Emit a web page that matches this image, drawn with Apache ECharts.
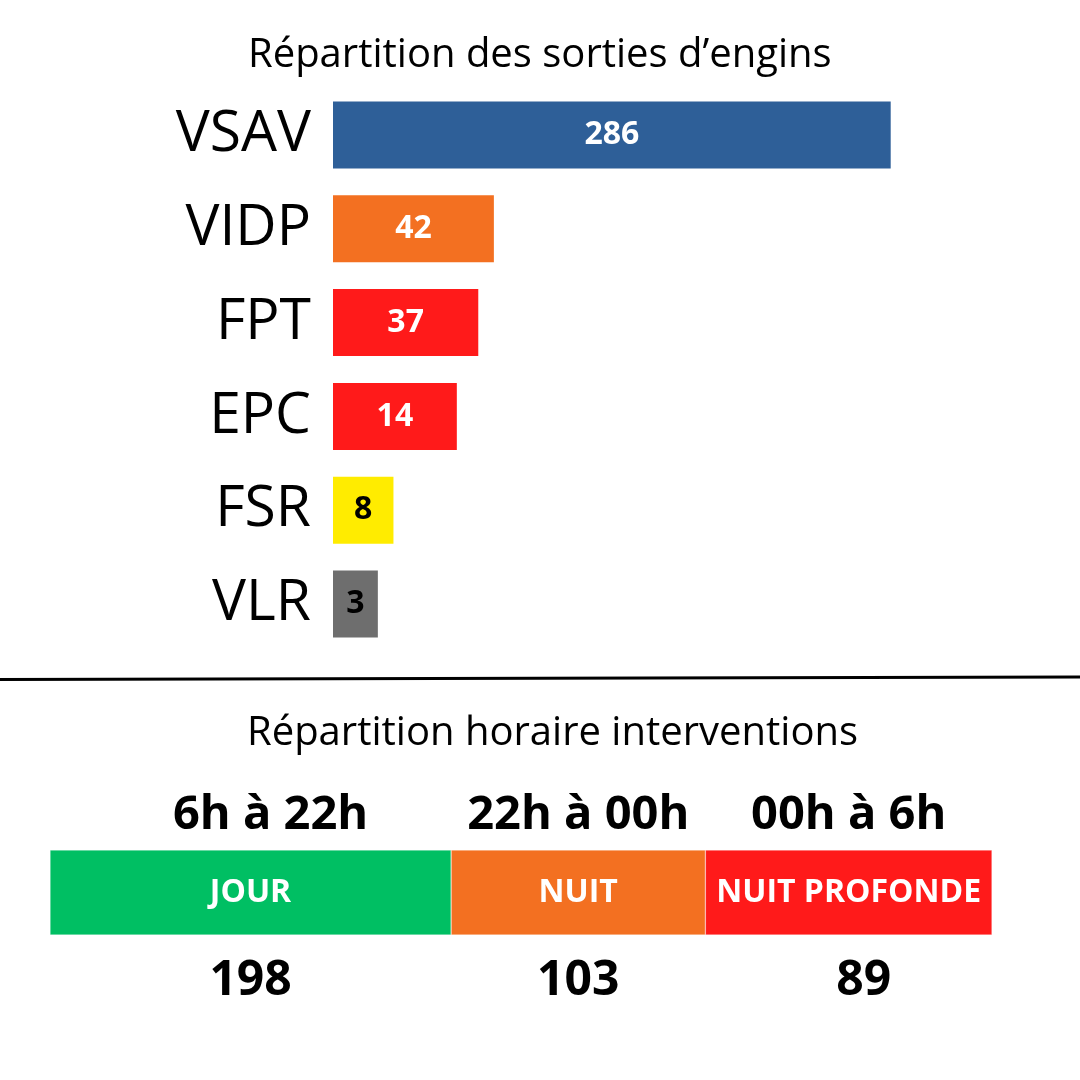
<!DOCTYPE html>
<html>
<head>
<meta charset="utf-8">
<script src="https://cdn.jsdelivr.net/npm/echarts@6/dist/echarts.min.js"></script>
<style>
html, body { margin: 0; padding: 0; background: #fff; }
#chart { width: 1080px; height: 1080px; }
</style>
</head>
<body>
<div id="chart"></div>
<script>
// Répartition des sorties d'engins
const engins = ['VSAV', 'VIDP', 'FPT', 'EPC', 'FSR', 'VLR'];
const sorties = [286, 42, 37, 14, 8, 3];
// bar lengths as drawn in the picture (the infographic is not to scale)
const drawnLength = [286, 82.5, 74.5, 63.5, 31, 23];
const enginColors = ['#2E5F98', '#F37021', '#FF1A1A', '#FF1A1A', '#FFEC00', '#6E6E6E'];
const enginLabelColors = ['#fff', '#fff', '#fff', '#fff', '#000', '#000'];

// Répartition horaire interventions
const periodes = ['JOUR', 'NUIT', 'NUIT PROFONDE'];
const horaires = ['6h à 22h', '22h à 00h', '00h à 6h'];
const interventions = [198, 103, 89];
// segment widths as drawn in the picture
const drawnWidth = [198, 125.5, 141.5];
const periodeColors = ['#00BF63', '#F37021', '#FF1A1A'];

const chart = echarts.init(document.getElementById('chart'));

const periodeSeries = periodes.map((p, i) => ({
    type: 'bar',
    name: p,
    stack: 'h',
    xAxisIndex: 1,
    yAxisIndex: 1,
    barWidth: 85,
    data: [drawnWidth[i]],
    itemStyle: { color: periodeColors[i], borderColor: 'rgba(255,255,255,0.6)', borderWidth: 0.5 },
    label: {
        show: true,
        position: 'inside',
        formatter: () => `{s| }\n{h|${horaires[i]}}\n{n|${p}}\n{v|${interventions[i]}}`,
        rich: {
            s: { fontSize: 10, lineHeight: 24, color: 'transparent' },
            h: { fontSize: 47, fontWeight: 'bold', color: '#000', lineHeight: 94,
                 padding: i === 0 ? [0, 0, 0, 40] : 0 },
            n: { fontSize: 32, fontWeight: 'bold', color: '#fff', lineHeight: 60 },
            v: { fontSize: 48, fontWeight: 'bold', color: '#000', lineHeight: 118,
                 padding: i === 2 ? [0, 0, 0, 30] : 0 }
        }
    }
}));

const option = {
    backgroundColor: '#fff',
    animation: false,
    textStyle: { fontFamily: 'Open Sans' },
    title: [
        {
            text: 'Répartition des sorties d’engins',
            left: 243, top: 31,
            textStyle: { fontSize: 40, fontWeight: 'normal', color: '#000', fontFamily: 'Open Sans' }
        },
        {
            text: 'Répartition horaire interventions',
            left: 242, top: 709,
            textStyle: { fontSize: 40, fontWeight: 'normal', color: '#000', fontFamily: 'Open Sans' }
        }
    ],
    graphic: [
        {
            type: 'line',
            shape: { x1: 0, y1: 679.5, x2: 1080, y2: 677 },
            style: { stroke: '#000', lineWidth: 3 }
        }
    ],
    grid: [
        { left: 333, width: 585, top: 88, height: 563 },
        { left: 50, width: 942, top: 850, height: 85 }
    ],
    xAxis: [
        { type: 'value', gridIndex: 0, min: 0, max: 300, show: false },
        { type: 'value', gridIndex: 1, min: 0, max: drawnWidth.reduce((a, b) => a + b, 0), show: false }
    ],
    yAxis: [
        {
            type: 'category', gridIndex: 0, inverse: true, data: engins,
            axisLine: { show: false }, axisTick: { show: false },
            axisLabel: { fontSize: 57, color: '#000', margin: 22, fontFamily: 'Open Sans' }
        },
        { type: 'category', gridIndex: 1, data: ['interventions'], show: false }
    ],
    series: [
        {
            type: 'bar',
            xAxisIndex: 0,
            yAxisIndex: 0,
            barWidth: 67,
            data: drawnLength.map((v, i) => ({
                value: v,
                itemStyle: { color: enginColors[i] },
                label: { color: enginLabelColors[i] }
            })),
            label: {
                show: true,
                position: 'inside',
                fontSize: 32,
                fontWeight: 'bold',
                fontFamily: 'Open Sans',
                formatter: p => sorties[p.dataIndex]
            }
        },
        ...periodeSeries
    ]
};

chart.setOption(option);
</script>
</body>
</html>
